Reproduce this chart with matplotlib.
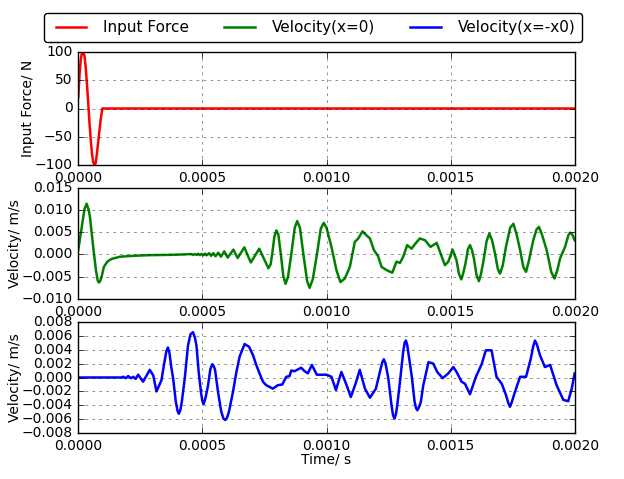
import numpy as np
import matplotlib
matplotlib.use("Agg")
import matplotlib.pyplot as plt

plt.style.use("classic")

# time in microseconds
force_t = [0, 5, 10, 15, 20, 25, 30, 35, 40, 45, 50, 55, 60, 65, 70, 75, 80, 85, 90, 97, 2000]
force_v = [20, 60, 87, 99, 100, 93, 72, 42, 10, -25, -55, -80, -95, -100, -97, -80, -60, -40, -20, 0, 0]

vel0_t = [0, 16, 25, 33.5, 42, 47, 60, 71, 78, 83, 88, 94, 103, 117, 134, 168, 221, 288, 355, 422,
          455, 462, 469, 476, 483, 490, 497, 504,
          511, 517, 527, 535, 544, 553, 564, 575, 588, 602, 625, 642, 669, 695, 729, 766,
          775, 782, 790, 798, 806, 815, 826, 835, 845, 858, 872, 882, 893, 907, 922, 932,
          945, 960, 977, 989, 1000, 1020, 1040, 1056, 1065, 1074, 1094, 1114, 1128, 1145,
          1161, 1175, 1191, 1208, 1222, 1242, 1265, 1282, 1296, 1309, 1325, 1343, 1356,
          1376, 1397, 1419, 1444, 1460, 1477, 1491, 1508, 1524, 1533, 1543, 1551, 1560,
          1570, 1578, 1586, 1594, 1604, 1614, 1622, 1632, 1645, 1656, 1667, 1679, 1690,
          1699, 1710, 1723, 1740, 1753, 1766, 1780, 1793, 1804, 1815, 1833, 1846, 1856,
          1868, 1887, 1906, 1919, 1930, 1941, 1961, 1975, 1981, 1990, 2000]
vel0_v = [0.0011, 0.0069, 0.0102, 0.0114, 0.0100, 0.0084, 0.0017, -0.0035, -0.0058, -0.0063,
          -0.0060, -0.0050, -0.0028, -0.0016, -0.0010, -0.0005, -0.0003, -0.00015, -0.0001, 0.0,
          0.0001, -0.0001, 0.0001, -0.0001, 0.00015, -0.00015, 0.00015, -0.0002,
          0.0002, -0.0002, 0.0003, -0.0003, 0.0003, -0.0004, 0.0004, -0.0005, 0.0007,
          -0.0007, 0.0011, -0.0008, 0.0016, -0.0018, 0.0013, -0.0031,
          -0.0022, 0.0005, 0.0040, 0.0054, 0.0045, 0.0005, -0.0048, -0.0066, -0.0050, 0.0000,
          0.0060, 0.0075, 0.0060, 0.0000, -0.0060, -0.0075,
          -0.0055, -0.0005, 0.0058, 0.0071, 0.0060, 0.0017, -0.0035, -0.0062, -0.0058,
          -0.0054, -0.0028, 0.0028, 0.0036, 0.0052,
          0.0043, 0.0036, 0.0010, -0.0004, -0.0028, -0.0035, -0.0041, -0.0016, -0.0019,
          -0.0005, 0.0021, 0.0013, 0.0023,
          0.0036, 0.0032, 0.0017, 0.0026, 0.0002, -0.0024, -0.0016, 0.0011, -0.0013,
          -0.0042, -0.0056, -0.0042, -0.0020,
          0.0012, 0.0021, 0.0010, -0.0009, -0.0045, -0.0060, -0.0045, -0.0016, 0.0030,
          0.0047, 0.0032, 0.0002, -0.0032,
          -0.0043, -0.0025, 0.0017, 0.0060, 0.0069, 0.0045, 0.0010, -0.0028, -0.0039,
          -0.0015, 0.0032, 0.0056, 0.0062,
          0.0045, 0.0010, -0.0040, -0.0054, -0.0035, -0.0009, 0.0017, 0.0044, 0.0049,
          0.0045, 0.0032]

velx_t = [0, 174, 181, 190, 201, 212, 221, 231, 241, 261, 288, 302, 315, 326, 335, 347,
          355, 361, 367, 375, 382, 393, 400, 405, 411, 417, 429, 442, 452, 462, 470, 476,
          485, 495, 500, 505, 512, 523, 532, 540, 546, 551, 563, 576, 585, 592, 599, 607,
          623, 637, 650, 670, 688, 704, 717, 730, 744, 757,
          784, 804, 822, 838, 851, 858, 871, 898, 912, 925, 941, 961,
          1000, 1020, 1038, 1060, 1081, 1098, 1117, 1134, 1155, 1175, 1199, 1215, 1225,
          1231, 1238, 1249, 1262, 1268, 1274, 1280, 1285, 1296, 1309, 1315, 1320, 1325,
          1331, 1343, 1355, 1361, 1366, 1372, 1380, 1390,
          1411, 1430, 1446, 1468, 1491, 1511, 1524, 1544, 1558, 1578, 1602, 1625, 1642,
          1665, 1685, 1706, 1723, 1732, 1739, 1746, 1759, 1780, 1804, 1823, 1833, 1840,
          1848, 1860, 1880, 1901, 1927, 1954, 1974, 1988, 2000]
velx_v = [0, 0, 0.0001, -0.0001, 0.0002, -0.0001, 0.0001, -0.0002, 0.0004, -0.0006,
          0.0011, 0.0003, -0.0020, -0.0011, -0.0004, 0.0022,
          0.0038, 0.0043, 0.0036, 0.0014, -0.0001, -0.0035, -0.0048, -0.0052, -0.0047,
          -0.0035, -0.0001, 0.0046, 0.0062, 0.0065, 0.0057, 0.0046,
          0.0008, -0.0023, -0.0034, -0.0038, -0.0030, -0.0011, 0.0012, 0.0019, 0.0016,
          0.0011, -0.0021, -0.0049, -0.0059, -0.0061, -0.0058, -0.0049,
          -0.0021, 0.0008, 0.0030, 0.0048, 0.0044, 0.0032, 0.0018, 0.0006, -0.0006, -0.0011,
          -0.0016, -0.0011, -0.0010, 0.0001, 0.0002, 0.0010, 0.0009, 0.0014, 0.0009,
          0.0006, 0.0018, 0.0004,
          0.0004, 0.0001, -0.0018, 0.0008, -0.0011, -0.0028, -0.0009, 0.0011, -0.0016,
          -0.0029, -0.0016, 0.0008, 0.0022,
          0.0026, 0.0020, -0.0001, -0.0040, -0.0054, -0.0059, -0.0052, -0.0040, -0.0006,
          0.0037, 0.0050, 0.0053, 0.0047,
          0.0032, 0.0003, -0.0035, -0.0044, -0.0047, -0.0043, -0.0035, -0.0011,
          0.0022, 0.0020, 0.0008, -0.0001, 0.0006, 0.0015, 0.0008, -0.0006, -0.0009,
          -0.0024, 0.0001, 0.0019, 0.0039,
          0.0039, 0.0001, -0.0009, -0.0025, -0.0036, -0.0042, -0.0036, -0.0021, 0.0001,
          0.0001, 0.0027, 0.0045, 0.0053,
          0.0047, 0.0032, 0.0015, 0.0018, -0.0011, -0.0032, -0.0034, -0.0016, 0.0006]

xticks = [0, 0.0005, 0.001, 0.0015, 0.002]
xticklabels = ["0.0000", "0.0005", "0.0010", "0.0015", "0.0020"]

fig = plt.figure(figsize=(6.24, 4.79), dpi=100, facecolor="white")
W, H = 624.0, 479.0
ax1 = fig.add_axes([78.3 / W, 1 - 165 / H, 496.4 / W, 113 / H])
ax2 = fig.add_axes([78.3 / W, 1 - 299 / H, 496.4 / W, 111.3 / H])
ax3 = fig.add_axes([78.3 / W, 1 - 433.3 / H, 496.4 / W, 111.6 / H])

l1, = ax1.plot(np.array(force_t) * 1e-6, force_v, color="r", lw=1.8, label="Input Force")
l2, = ax2.plot(np.array(vel0_t) * 1e-6, vel0_v, color="g", lw=1.8, label="Velocity(x=0)")
l3, = ax3.plot(np.array(velx_t) * 1e-6, velx_v, color="b", lw=1.8, label="Velocity(x=-x0)")

ax1.set_ylim(-100, 100)
ax1.set_yticks([-100, -50, 0, 50, 100])
ax1.set_ylabel("Input Force/ N", fontsize=10, labelpad=0)
ax2.set_ylim(-0.010, 0.015)
ax2.set_yticks([-0.010, -0.005, 0.0, 0.005, 0.010, 0.015])
ax2.set_yticklabels(["\u22120.010", "\u22120.005", "0.000", "0.005", "0.010", "0.015"])
ax2.set_ylabel("Velocity/ m/s", fontsize=10, labelpad=0)
ax3.set_ylim(-0.008, 0.008)
yt3 = [-0.008, -0.006, -0.004, -0.002, 0.0, 0.002, 0.004, 0.006, 0.008]
ax3.set_yticks(yt3)
ax3.set_yticklabels([("%.3f" % v).replace("-", "\u2212") if abs(v) > 1e-12 else "0.000" for v in yt3])
ax3.set_ylabel("Velocity/ m/s", fontsize=10, labelpad=0)
ax3.set_xlabel("Time/ s", fontsize=10, labelpad=0)

for ax in (ax1, ax2, ax3):
    ax.set_xlim(0, 0.002)
    ax.set_xticks(xticks)
    ax.set_xticklabels(xticklabels)
    ax.tick_params(labelsize=10)
    ax.grid(True, color="k", linestyle=(0, (2, 3)), linewidth=0.5, alpha=0.6)

fig.legend(handles=[l1, l2, l3], loc="upper center", bbox_to_anchor=(0.502, 1 - 13 / H),
           borderaxespad=0, ncol=3, fontsize=11, fancybox=True, handlelength=2.6,
           numpoints=2, columnspacing=2.0, borderpad=0.45)

fig.savefig("out.png", dpi=100, facecolor="white")
